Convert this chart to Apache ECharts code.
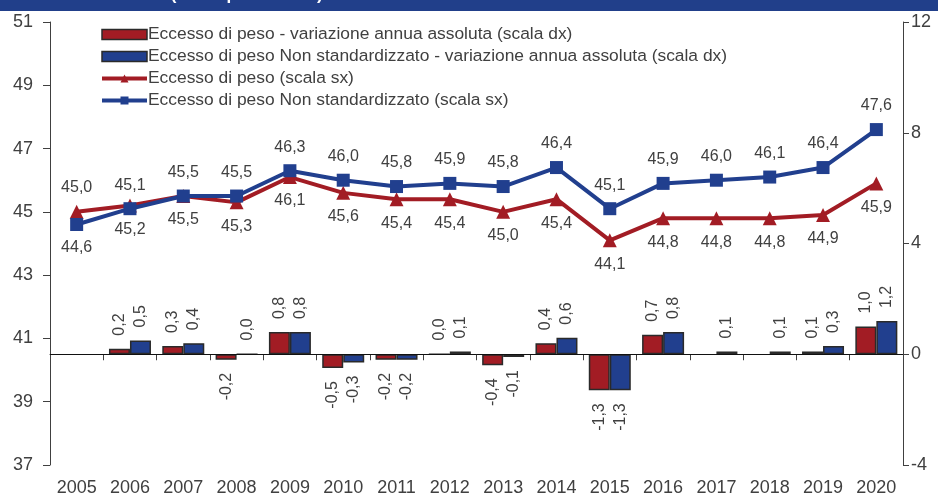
<!DOCTYPE html>
<html>
<head>
<meta charset="utf-8">
<script src="https://cdn.jsdelivr.net/npm/echarts@6/dist/echarts.min.js"></script>
<style>
html,body{margin:0;padding:0;background:#fff;}
#chart{width:938px;height:497px;}
</style>
</head>
<body>
<div id="chart"></div>
<script>
var years = ['2005','2006','2007','2008','2009','2010','2011','2012','2013','2014','2015','2016','2017','2018','2019','2020'];
var stdLine = [45.0,45.2,45.5,45.3,46.1,45.6,45.4,45.4,45.0,45.4,44.1,44.8,44.8,44.8,44.9,45.9];
var nonStdLine = [44.6,45.1,45.5,45.5,46.3,46.0,45.8,45.9,45.8,46.4,45.1,45.9,46.0,46.1,46.4,47.6];
var stdVar = [null,0.2,0.3,-0.2,0.8,-0.5,-0.2,0.0,-0.4,0.4,-1.3,0.7,null,null,0.1,1.0];
var nonStdVar = [null,0.5,0.4,0.0,0.8,-0.3,-0.2,0.1,-0.1,0.6,-1.3,0.8,0.1,0.1,0.3,1.2];
var leftTicks = {min:37,max:51,interval:2};
var rightTicks = {min:-4,max:12,interval:4};
var names = [
  'Eccesso di peso - variazione annua assoluta (scala dx)',
  'Eccesso di peso Non standardizzato - variazione annua assoluta (scala dx)',
  'Eccesso di peso (scala sx)',
  'Eccesso di peso Non standardizzato (scala sx)'
];
var titleText = 'STANDARDIZZATO (valori percentuali)';

var RED = '#a21c24', BLUE = '#213f8e', TXT = '#404040', AX = '#404040';
var FONT = '"Liberation Sans", Arial, sans-serif';

function fmt(v){ return v.toFixed(1).replace('.', ','); }

function barData(arr){
  return arr.map(function(v){
    if (v === null) return {value: null, label:{show:false}};
    var neg = v < 0;
    return {
      value: v,
      label: {
        show: true,
        position: neg ? 'bottom' : 'top',
        rotate: 90,
        align: neg ? 'right' : 'left',
        verticalAlign: 'middle',
        distance: 13
      }
    };
  });
}
function lineData(arr, topFirst){
  return arr.map(function(v, i){
    var top = (i === 0) ? topFirst : !topFirst;
    return {value: v, label:{position: top ? 'top' : 'bottom'}};
  });
}

var chart = echarts.init(document.getElementById('chart'), null, {renderer:'canvas'});
var barLabel = {color: TXT, fontSize: 16, fontFamily: FONT, formatter: function(p){ return fmt(p.value); }};
var lineLabel = {show: true, color: TXT, fontSize: 16, fontFamily: FONT, distance: 9, formatter: function(p){ return fmt(p.value); }};

chart.setOption({
  animation: false,
  textStyle: {fontFamily: FONT},
  graphic: [
    {type:'rect', shape:{x:0,y:0,width:938,height:11}, style:{fill:'#213f8a'}, z: 100},
    {type:'text', x: 12, y: -13, z: 101, style:{text: titleText, fill:'#fff', font:'bold 17px ' + FONT}}
  ],
  legend: {
    orient: 'vertical',
    left: 95,
    top: 21,
    itemWidth: 45,
    itemHeight: 10,
    itemGap: 5,
    textStyle: {color: TXT, fontSize: 17.4, fontFamily: FONT, padding:[0,0,0,-4]},
    data: [
      {name: names[0], icon: 'rect', itemStyle: {borderColor: '#2a2a2a', borderWidth: 1.5}},
      {name: names[1], icon: 'rect', itemStyle: {borderColor: '#2a2a2a', borderWidth: 1.5}},
      {name: names[2], lineStyle: {width: 4}},
      {name: names[3], lineStyle: {width: 4}}
    ]
  },
  grid: {left: 50, right: 35, top: 22, bottom: 32, containLabel: false},
  xAxis: {
    type: 'category',
    data: years,
    boundaryGap: true,
    axisLine: {lineStyle: {color: AX, width: 1}},
    axisTick: {show: true, length: 6, lineStyle: {color: AX}},
    axisLabel: {color: TXT, fontSize: 18, margin: 14, fontFamily: FONT, interval: 0}
  },
  yAxis: [
    {
      type: 'value', min: leftTicks.min, max: leftTicks.max, interval: leftTicks.interval,
      axisLine: {show: true, lineStyle: {color: AX}},
      axisTick: {show: true, length: 7, lineStyle: {color: AX}},
      splitLine: {show: false},
      axisLabel: {color: TXT, fontSize: 18, margin: 17, fontFamily: FONT}
    },
    {
      type: 'value', min: rightTicks.min, max: rightTicks.max, interval: rightTicks.interval,
      position: 'right',
      axisLine: {show: true, lineStyle: {color: AX}},
      axisTick: {show: true, length: 6, lineStyle: {color: AX}},
      splitLine: {show: false},
      axisLabel: {color: TXT, fontSize: 18, margin: 8, fontFamily: FONT}
    }
  ],
  series: [
    {
      name: names[0], type: 'bar', yAxisIndex: 1, barWidth: 21, barGap: '0%',
      itemStyle: {color: RED, borderColor: '#2a2a2a', borderWidth: 1.5},
      label: barLabel,
      data: barData(stdVar),
      markLine: {
        silent: true, symbol: ['none','none'], label: {show:false},
        lineStyle: {color: '#111', width: 1, type: 'solid'},
        data: [{yAxis: 0}]
      },
      z: 2
    },
    {
      name: names[1], type: 'bar', yAxisIndex: 1, barWidth: 21, barGap: '0%',
      itemStyle: {color: BLUE, borderColor: '#2a2a2a', borderWidth: 1.5},
      label: barLabel,
      data: barData(nonStdVar),
      z: 2
    },
    {
      name: names[2], type: 'line', yAxisIndex: 0,
      symbol: 'triangle', symbolSize: 14,
      lineStyle: {color: RED, width: 4},
      itemStyle: {color: RED},
      label: lineLabel,
      data: lineData(stdLine, true),
      z: 4
    },
    {
      name: names[3], type: 'line', yAxisIndex: 0,
      symbol: 'rect', symbolSize: 13,
      lineStyle: {color: BLUE, width: 4},
      itemStyle: {color: BLUE},
      label: lineLabel,
      data: lineData(nonStdLine, false),
      z: 5
    }
  ]
});
</script>
</body>
</html>
